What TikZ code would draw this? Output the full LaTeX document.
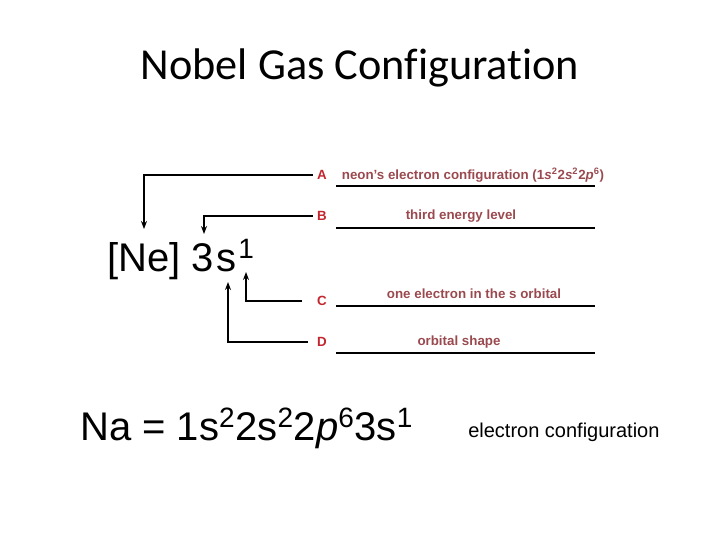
\documentclass[tikz,border=0pt]{standalone}
\usepackage{fontspec}
\setmainfont{Liberation Sans}
\newfontfamily\titlefont[Ligatures=NoCommon]{Carlito}
\usetikzlibrary{arrows.meta}
\definecolor{letter}{HTML}{C3262E}
\definecolor{answer}{HTML}{9A4A4F}

\tikzset{
  pointer/.style={line width=1.1pt,-{Stealth[length=6pt,width=4.5pt]}},
  blank/.style={line width=0.8pt},
  tag/.style={font=\fontsize{10}{12}\selectfont\bfseries,letter,inner sep=3pt},
  reply/.style={font=\fontsize{10}{12}\selectfont\bfseries,answer,inner sep=0pt}
}

\begin{document}
\begin{tikzpicture}[x=0.75pt,y=-0.75pt]
  \useasboundingbox (0,0) rectangle (720,540);

  % Title
  \node[font=\titlefont\fontsize{33.2}{40}\selectfont] (title) at (360,68) {Nobel Gas Configuration};

  % Noble gas notation
  \node[anchor=base west,inner sep=0pt,font=\fontsize{30}{32}\selectfont] (ne) at (107,271)
    {[Ne] 3\hspace{0.07em}s\textsuperscript{\hspace{0.06em}1}};

  % Full configuration
  \node[anchor=base west,inner sep=0pt,font=\fontsize{30}{34}\selectfont] (na) at (80,440)
    {Na = 1s\textsuperscript{2}2s\textsuperscript{2}2\textit{p}\textsuperscript{6}3s\textsuperscript{1}};
  \node[anchor=base west,inner sep=0pt,font=\fontsize{15}{16}\selectfont] (full) at (468,437)
    {electron configuration};

  % Letters and answers
  \node[tag] (labA) at (322,175) {A};
  \node[tag] (labB) at (322,216) {B};
  \node[tag] (labC) at (322,301) {C};
  \node[tag] (labD) at (322,342) {D};
  \node[reply] (ansA) at (473,175)
    {neon's electron configuration (1\textit{s}\textsuperscript{2}2\textit{s}\textsuperscript{2}2\textit{p}\textsuperscript{6})};
  \node[reply] (ansB) at (461,216) {third energy level};
  \node[reply] (ansC) at (474,294) {one electron in the s orbital};
  \node[reply] (ansD) at (459,342) {orbital shape};

  % Blanks
  \foreach \y in {186,228,306,353}
    \draw[blank] (336,\y) -- (595,\y);

  % Pointers
  \coordinate (tipA) at (144,229);
  \coordinate (tipB) at (204,234);
  \coordinate (tipC) at (246,272);
  \coordinate (tipD) at (228,282);
  \draw[pointer] (labA.west) -| (tipA);
  \draw[pointer] (labB.west) -| (tipB);
  \draw[pointer,shorten <=8pt] (labC.west) -| (tipC);
  \draw[pointer,shorten <=4pt] (labD.west) -| (tipD);
\end{tikzpicture}
\end{document}
